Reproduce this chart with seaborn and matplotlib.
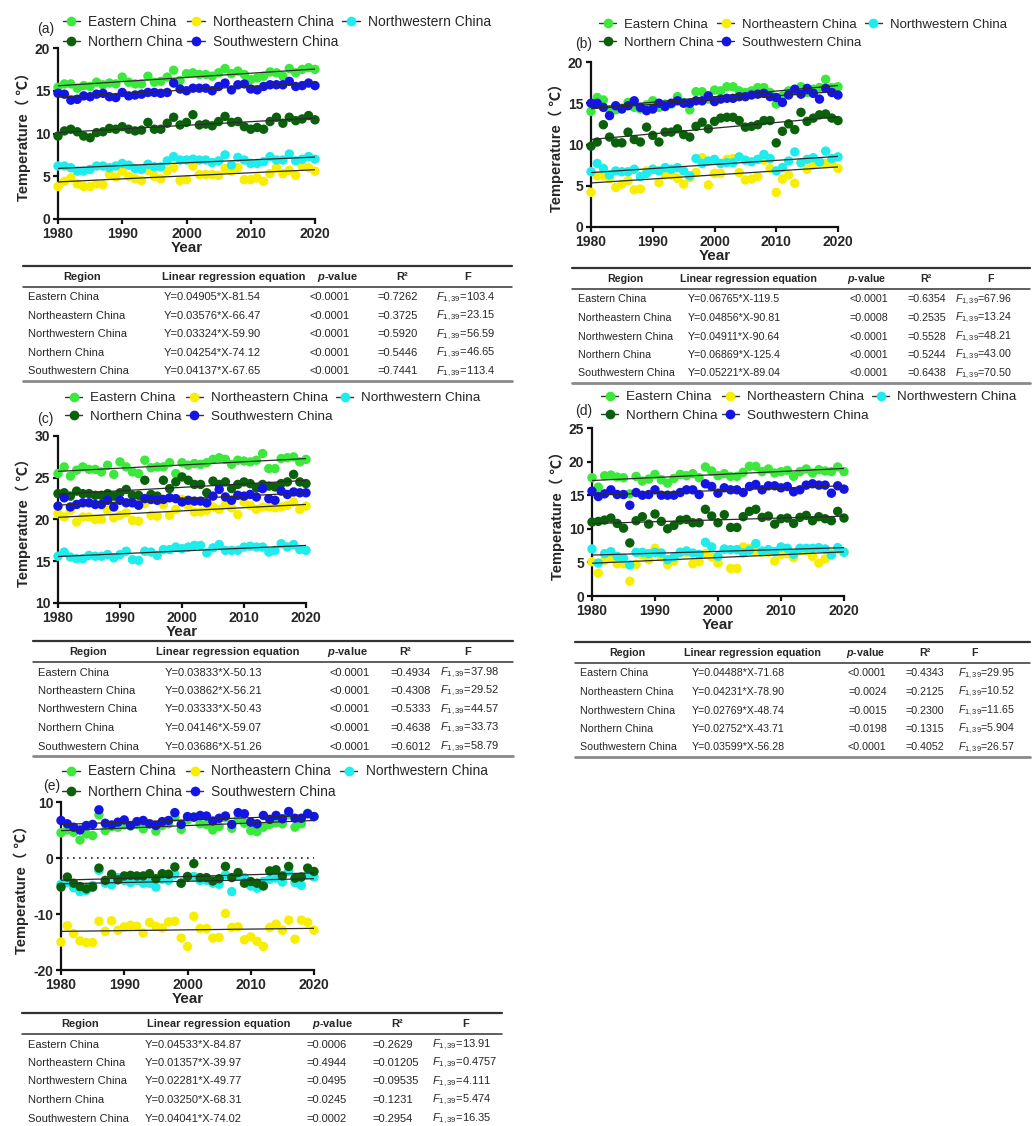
import numpy as np
import pandas as pd
import matplotlib
matplotlib.use("Agg")
import matplotlib.pyplot as plt
from matplotlib.lines import Line2D
import seaborn as sns

# ---------------------------------------------------------------- data
years = list(range(1980, 2021))
regions = ["Eastern China", "Northeastern China", "Northwestern China",
           "Northern China", "Southwestern China"]
palette = {"Eastern China": "#3CE83C", "Northeastern China": "#F7EE00",
           "Northwestern China": "#1FECEC", "Northern China": "#0B600B",
           "Southwestern China": "#1414E6"}

# (a) annual mean temperature
a_east = [15.4, 15.8, 15.8, 15.3, 15.6, 15.5, 16.0, 15.7, 15.9, 15.8, 16.6, 16.0, 15.8, 15.8,
          16.7, 16.0, 16.1, 16.6, 17.4, 16.2, 17.0, 17.1, 16.9, 16.9, 16.7, 17.1, 17.6, 17.0,
          17.3, 16.9, 16.3, 16.5, 16.7, 17.2, 17.1, 16.7, 17.6, 17.1, 17.5, 17.7, 17.5]
a_northeast = [3.8, 4.4, 4.8, 4.1, 3.8, 3.8, 4.1, 4.0, 5.2, 4.9, 5.6, 5.0, 4.7, 4.5, 5.7, 5.0,
               4.7, 5.6, 6.0, 4.5, 4.6, 6.2, 5.2, 5.2, 5.2, 5.1, 5.9, 5.6, 6.0, 4.6, 4.6, 4.8,
               4.4, 5.3, 6.0, 5.3, 5.7, 5.1, 6.2, 6.0, 5.6]
a_northwest = [6.2, 6.2, 6.0, 5.6, 5.6, 5.8, 6.2, 6.2, 6.0, 6.2, 6.5, 6.3, 5.9, 5.8, 6.4, 6.1,
               6.1, 6.8, 7.3, 6.9, 6.9, 7.0, 6.9, 6.9, 6.6, 6.8, 7.5, 6.3, 7.2, 6.9, 6.5, 6.5,
               6.7, 7.3, 6.9, 6.9, 7.6, 6.8, 7.0, 7.3, 7.0]
a_north = [9.7, 10.3, 10.5, 10.2, 9.7, 9.5, 10.1, 10.2, 10.6, 10.5, 10.8, 10.5, 10.3, 10.4,
           11.3, 10.5, 10.5, 11.2, 11.9, 11.0, 11.3, 12.2, 11.0, 11.1, 10.9, 11.4, 12.0, 11.3,
           11.4, 10.8, 10.5, 10.7, 10.5, 11.4, 11.9, 11.2, 11.9, 11.5, 11.7, 12.1, 11.6]
a_southwest = [14.7, 14.6, 13.9, 14.0, 14.4, 14.3, 14.6, 14.7, 14.3, 14.2, 14.8, 14.4, 14.5,
               14.6, 14.8, 14.8, 14.7, 14.8, 15.9, 15.2, 15.0, 15.3, 15.3, 15.3, 15.0, 15.5,
               15.9, 15.1, 15.7, 15.8, 15.2, 15.1, 15.5, 15.7, 15.7, 15.7, 16.1, 15.5, 15.6,
               15.9, 15.6]

# (b) spring
b_east = [14.0, 15.7, 15.4, 14.2, 14.2, 14.4, 15.1, 14.5, 14.3, 14.8, 15.3, 14.5, 14.9, 14.9,
          15.8, 15.1, 14.2, 16.4, 16.4, 15.5, 16.6, 16.5, 17.0, 17.0, 16.5, 16.3, 16.5, 16.9,
          16.9, 16.3, 14.9, 15.9, 16.5, 16.5, 17.0, 16.3, 16.7, 16.9, 17.9, 16.9, 17.0]
b_northeast = [4.2, 6.2, 6.2, 5.9, 4.8, 5.2, 5.6, 4.5, 4.6, 6.8, 7.0, 5.4, 6.3, 6.3, 5.9, 5.2,
               6.0, 6.6, 8.4, 5.1, 6.5, 6.5, 8.2, 8.3, 6.6, 5.7, 5.8, 6.1, 8.1, 7.1, 4.2, 5.8,
               6.3, 5.3, 7.8, 7.0, 7.5, 7.8, 7.7, 7.8, 7.1]
b_northwest = [6.7, 7.7, 7.1, 6.3, 6.8, 6.7, 6.7, 7.0, 6.1, 6.5, 7.0, 6.8, 7.2, 7.0, 7.2, 6.8,
               6.2, 8.3, 7.7, 8.0, 8.2, 7.7, 7.8, 7.8, 8.5, 8.1, 7.9, 8.2, 8.8, 8.3, 6.8, 7.2,
               8.0, 9.1, 7.8, 8.2, 8.4, 7.9, 9.2, 8.3, 8.5]
b_north = [9.8, 10.3, 12.4, 10.9, 10.2, 10.2, 11.5, 10.6, 10.3, 12.1, 11.1, 10.3, 11.5, 11.5,
           11.9, 11.2, 10.9, 12.2, 12.7, 11.9, 12.8, 13.2, 13.3, 13.3, 12.9, 12.1, 12.2, 12.4,
           12.9, 12.9, 10.2, 11.6, 12.5, 11.8, 13.9, 12.8, 13.2, 13.6, 13.7, 13.2, 12.9]
b_southwest = [15.0, 15.0, 14.5, 13.5, 14.7, 14.3, 14.7, 15.3, 14.5, 14.1, 14.3, 15.0, 14.6,
               15.0, 15.3, 15.0, 15.0, 15.3, 15.3, 15.9, 15.2, 15.5, 15.6, 15.6, 15.8, 15.8,
               16.0, 16.1, 16.2, 15.8, 15.7, 15.1, 16.0, 16.7, 16.1, 16.8, 16.2, 15.5, 16.8,
               16.3, 16.0]

# (c) summer
c_east = [25.5, 26.3, 25.2, 25.9, 26.3, 26.0, 26.0, 25.7, 26.5, 25.4, 26.9, 26.3, 25.7, 25.5,
          27.1, 26.2, 26.3, 26.3, 26.8, 25.5, 26.8, 26.5, 26.7, 26.6, 26.8, 27.2, 27.4, 27.2,
          26.6, 27.1, 27.0, 26.9, 27.1, 27.9, 26.1, 26.1, 27.3, 27.4, 27.5, 26.9, 27.2]
c_northeast = [20.7, 20.3, 21.1, 19.7, 20.3, 20.3, 20.0, 20.0, 21.1, 20.2, 20.5, 20.8, 19.9,
               19.8, 21.9, 20.5, 20.4, 21.8, 20.5, 21.2, 22.4, 21.7, 20.9, 20.9, 21.1, 21.5,
               21.2, 21.9, 21.4, 20.6, 22.1, 21.7, 21.2, 21.5, 21.5, 21.4, 21.5, 21.7, 22.1,
               21.2, 21.6]
c_northwest = [15.6, 16.1, 15.5, 15.3, 15.3, 15.7, 15.6, 15.6, 15.8, 15.4, 15.8, 16.2, 15.2,
               15.1, 16.2, 16.1, 15.7, 16.4, 16.4, 16.7, 16.5, 16.7, 16.9, 16.9, 16.0, 16.6,
               17.0, 16.3, 16.3, 16.3, 16.7, 16.8, 16.7, 16.7, 16.1, 16.3, 17.1, 16.7, 17.0,
               16.4, 16.3]
c_north = [23.1, 23.2, 22.8, 23.4, 23.1, 23.1, 22.9, 22.9, 23.1, 22.8, 23.2, 23.6, 22.9, 22.9,
           24.7, 23.0, 22.8, 24.7, 23.7, 24.5, 25.1, 24.7, 24.2, 24.2, 23.2, 24.6, 24.2, 24.5,
           23.7, 24.2, 24.5, 24.3, 23.8, 24.2, 24.0, 23.9, 24.3, 24.5, 25.4, 24.5, 24.3]
c_southwest = [21.6, 22.6, 21.5, 21.8, 22.0, 22.0, 21.8, 21.8, 22.3, 21.5, 22.3, 22.0, 22.0,
               21.7, 22.5, 22.4, 22.3, 22.4, 22.6, 22.5, 22.1, 22.3, 22.2, 22.2, 22.0, 22.8,
               23.6, 22.7, 22.3, 22.9, 22.8, 23.0, 22.7, 23.7, 22.5, 22.3, 23.4, 23.0, 23.3,
               23.2, 23.2]

# (d) autumn
d_east = [17.6, 16.2, 17.9, 18.0, 17.7, 17.6, 15.2, 17.8, 17.1, 17.4, 18.1, 17.3, 16.8, 17.5,
          18.1, 17.9, 18.2, 17.6, 19.2, 18.6, 17.9, 18.2, 17.8, 17.8, 18.4, 19.3, 19.3, 18.5,
          18.9, 18.3, 18.5, 18.7, 17.8, 18.5, 18.9, 18.3, 18.8, 18.6, 18.5, 19.2, 18.5]
d_northeast = [5.1, 3.4, 5.3, 5.7, 4.8, 4.8, 2.2, 4.7, 6.1, 5.4, 7.1, 5.8, 4.7, 5.2, 6.5, 6.5,
               4.8, 5.1, 6.3, 5.8, 4.9, 6.9, 4.1, 4.1, 7.3, 7.1, 6.6, 6.5, 6.5, 5.2, 6.2, 6.3,
               5.7, 6.7, 6.7, 5.9, 4.9, 5.5, 6.3, 6.9, 6.6]
d_northwest = [7.0, 4.9, 6.3, 6.6, 5.9, 5.6, 4.6, 6.5, 6.5, 6.3, 6.5, 6.4, 5.4, 5.8, 6.5, 6.7,
               6.4, 6.2, 8.0, 7.3, 5.9, 7.0, 6.9, 6.9, 6.4, 6.8, 7.8, 6.7, 6.9, 6.6, 7.3, 7.1,
               6.2, 7.1, 7.1, 7.1, 7.2, 7.0, 6.1, 7.2, 6.5]
d_north = [11.0, 11.1, 11.3, 11.6, 10.8, 10.1, 7.9, 11.2, 11.8, 10.7, 12.2, 11.1, 10.0, 10.5,
           11.3, 11.4, 10.9, 10.9, 12.9, 11.9, 10.9, 12.1, 10.2, 10.2, 11.8, 12.6, 12.9, 11.7,
           11.9, 10.7, 11.5, 11.6, 10.8, 11.7, 12.0, 11.2, 11.8, 11.5, 11.2, 12.6, 11.6]
d_southwest = [15.6, 14.8, 15.2, 15.8, 15.1, 15.1, 13.5, 15.4, 15.0, 15.1, 15.8, 15.0, 15.0,
               15.0, 15.4, 15.8, 15.8, 15.1, 16.7, 16.3, 15.3, 16.1, 15.8, 15.8, 15.4, 16.3,
               16.6, 15.8, 16.4, 16.4, 16.1, 16.3, 15.5, 15.8, 16.5, 16.7, 16.5, 16.5, 15.3,
               16.4, 15.9]

# (e) winter
e_east = [4.5, 5.0, 4.6, 3.2, 4.3, 4.0, 7.7, 4.9, 5.6, 5.5, 5.9, 5.7, 6.0, 5.2, 6.1, 4.8, 5.8,
          6.1, 7.3, 5.1, 6.8, 7.3, 6.1, 6.0, 5.0, 5.6, 7.2, 5.3, 6.9, 6.2, 4.9, 4.7, 5.5, 6.0,
          6.3, 6.1, 7.7, 5.5, 6.1, 8.0, 7.4]
e_northeast = [-15.0, -12.1, -13.5, -14.8, -15.1, -15.1, -11.3, -13.1, -11.2, -12.9, -12.3,
               -12.0, -12.2, -13.4, -11.5, -12.2, -12.5, -11.4, -11.3, -14.3, -15.8, -10.4,
               -12.6, -12.6, -14.3, -14.2, -9.9, -12.4, -12.3, -14.6, -14.1, -14.9, -15.8,
               -12.4, -11.8, -12.9, -11.1, -14.5, -11.1, -11.5, -12.9]
e_northwest = [-4.7, -4.4, -5.3, -6.0, -5.8, -4.9, -2.2, -4.5, -4.8, -3.5, -4.0, -4.4, -4.0,
               -4.5, -4.5, -5.2, -3.8, -4.0, -2.9, -4.5, -3.4, -3.3, -4.0, -4.0, -4.5, -4.7,
               -3.0, -6.0, -3.2, -3.5, -5.0, -5.4, -4.2, -3.8, -3.6, -4.3, -2.4, -4.4, -4.9,
               -3.0, -3.4]
e_north = [-5.2, -3.4, -4.5, -5.1, -5.5, -5.2, -1.8, -4.0, -2.9, -3.9, -3.2, -3.1, -3.2, -3.2,
           -2.8, -3.7, -2.8, -2.9, -1.6, -4.5, -3.3, -1.0, -3.5, -3.5, -4.1, -3.7, -1.5, -3.5,
           -2.6, -4.5, -4.2, -4.5, -5.0, -2.3, -2.1, -3.2, -1.5, -3.6, -3.4, -1.8, -2.4]
e_southwest = [6.7, 6.1, 5.5, 5.0, 5.8, 6.0, 8.6, 6.2, 5.9, 6.4, 6.8, 5.8, 6.5, 6.7, 6.1, 5.8,
               6.5, 6.7, 8.1, 6.0, 7.4, 7.3, 7.6, 7.5, 6.6, 7.1, 7.5, 6.0, 8.1, 7.9, 6.4, 6.1,
               7.6, 6.9, 7.6, 7.0, 8.3, 7.1, 7.1, 7.9, 7.4]

# linear regression results, in region order
a_slope = [0.04905, 0.03576, 0.03324, 0.04254, 0.04137]
a_icpt = [-81.54, -66.47, -59.90, -74.12, -67.65]
a_p = ["<0.0001", "<0.0001", "<0.0001", "<0.0001", "<0.0001"]
a_r2 = [0.7262, 0.3725, 0.5920, 0.5446, 0.7441]
a_f = [103.4, 23.15, 56.59, 46.65, 113.4]

b_slope = [0.06765, 0.04856, 0.04911, 0.06869, 0.05221]
b_icpt = [-119.5, -90.81, -90.64, -125.4, -89.04]
b_p = ["<0.0001", "=0.0008", "<0.0001", "<0.0001", "<0.0001"]
b_r2 = [0.6354, 0.2535, 0.5528, 0.5244, 0.6438]
b_f = [67.96, 13.24, 48.21, 43.00, 70.50]

c_slope = [0.03833, 0.03862, 0.03333, 0.04146, 0.03686]
c_icpt = [-50.13, -56.21, -50.43, -59.07, -51.26]
c_p = ["<0.0001", "<0.0001", "<0.0001", "<0.0001", "<0.0001"]
c_r2 = [0.4934, 0.4308, 0.5333, 0.4638, 0.6012]
c_f = [37.98, 29.52, 44.57, 33.73, 58.79]

d_slope = [0.04488, 0.04231, 0.02769, 0.02752, 0.03599]
d_icpt = [-71.68, -78.90, -48.74, -43.71, -56.28]
d_p = ["<0.0001", "=0.0024", "=0.0015", "=0.0198", "<0.0001"]
d_r2 = [0.4343, 0.2125, 0.2300, 0.1315, 0.4052]
d_f = [29.95, 10.52, 11.65, 5.904, 26.57]

e_slope = [0.04533, 0.01357, 0.02281, 0.03250, 0.04041]
e_icpt = [-84.87, -39.97, -49.77, -68.31, -74.02]
e_p = ["=0.0006", "=0.4944", "=0.0495", "=0.0245", "=0.0002"]
e_r2 = [0.2629, 0.01205, 0.09535, 0.1231, 0.2954]
e_f = [13.91, 0.4757, 4.111, 5.474, 16.35]

# ---------------------------------------------------------------- style
sns.set_theme(style="ticks")
plt.rcParams["font.family"] = ["Liberation Sans", "Noto Sans CJK SC", "DejaVu Sans"]
plt.rcParams.update({
    "mathtext.fontset": "custom",
    "mathtext.rm": "Liberation Sans",
    "mathtext.it": "Liberation Sans:italic",
    "mathtext.bf": "Liberation Sans:bold",
    "mathtext.bfit": "Liberation Sans:italic:bold",
})

W, H = 1035, 1126
fig = plt.figure(figsize=(W / 100, H / 100), dpi=100)
fig.patch.set_facecolor("white")


def px_axes(left, right, top, bottom):
    return fig.add_axes([left / W, 1 - bottom / H, (right - left) / W, (bottom - top) / H])


def draw_panel(rect, series, slopes, icpts, ylim, yticks, letter, letter_xy, leg_xy,
               leg_fs=10, zero_line=False):
    ax = px_axes(*rect)
    df = pd.DataFrame({
        "Year": years * len(regions),
        "Temperature": np.concatenate(series),
        "Region": np.repeat(regions, len(years)),
    })
    sns.scatterplot(data=df, x="Year", y="Temperature", hue="Region", hue_order=regions,
                    palette=palette, s=46, linewidth=0, legend=False, ax=ax,
                    clip_on=False, zorder=3)
    xl = np.array([1980, 2020])
    for k, m in enumerate(slopes):
        sns.lineplot(x=xl, y=m * xl + icpts[k], color="#2b2b2b", lw=0.9, ax=ax, zorder=4)
    if zero_line:
        ax.plot(xl, [0, 0], ls=(0, (1, 2.6)), color="#222222", lw=1.2, zorder=2)
    ax.set_xlim(1980, 2020)
    ax.set_ylim(*ylim)
    ax.set_xticks([1980, 1990, 2000, 2010, 2020])
    ax.set_yticks(yticks)
    ax.set_xticklabels([str(t) for t in [1980, 1990, 2000, 2010, 2020]])
    ax.set_yticklabels([str(t) for t in yticks])
    sns.despine(ax=ax)
    for side in ("left", "bottom"):
        ax.spines[side].set_linewidth(1.6)
        ax.spines[side].set_color("#111111")
    ax.tick_params(axis="both", direction="out", length=3.5, width=1.6, color="#111111",
                   labelsize=10, pad=2)
    for lab in ax.get_xticklabels() + ax.get_yticklabels():
        lab.set_fontweight("bold")
    ax.set_xlabel("Year", fontsize=11, fontweight="bold", labelpad=0.5)
    ax.set_ylabel("Temperature（ ℃）", fontsize=10.5, fontweight="bold", labelpad=3)
    ax.set_facecolor("white")

    fig.text(letter_xy[0] / W, 1 - letter_xy[1] / H, letter, fontsize=10,
             ha="center", va="center")
    order = [0, 3, 1, 4, 2]
    handles = [Line2D([0], [0], color="#333333", lw=1.0, marker="o", markersize=7,
                      markerfacecolor=palette[regions[i]], markeredgewidth=0)
               for i in order]
    fig.legend(handles, [regions[i] for i in order], loc="center",
               bbox_to_anchor=(leg_xy[0] / W, 1 - leg_xy[1] / H), ncol=3, frameon=False,
               fontsize=leg_fs, handlelength=1.25, handletextpad=0.6, columnspacing=0.3,
               labelspacing=0.45, borderpad=0)
    return ax


def fmt(v):
    return format(v, "#.4g")


def draw_table(x0, x1, top, slopes, icpts, pvals, r2s, fvals, hdr_x, col_x, fs=8,
               show_bottom=True):
    def fy(y):
        return 1 - y / H
    fig.add_artist(Line2D([x0 / W, x1 / W], [fy(top), fy(top)], color="#333333", lw=1.6))
    fig.add_artist(Line2D([x0 / W, x1 / W], [fy(top + 21), fy(top + 21)], color="#333333", lw=1.1))
    if show_bottom:
        fig.add_artist(Line2D([x0 / W, x1 / W], [fy(top + 115), fy(top + 115)], color="#8a8a8a", lw=2.0))
    headers = ["Region", "Linear regression equation", r"$\mathbfit{p}$-value", "R²", "F"]
    for hx, ht in zip(hdr_x, headers):
        fig.text(hx / W, fy(top + 11), ht, fontsize=fs, fontweight="bold", ha="center", va="center")
    for i, reg in enumerate(regions):
        y = top + 31.5 + i * 18.5
        eq = "Y=" + fmt(slopes[i]) + "*X-" + fmt(abs(icpts[i]))
        cells = [reg, eq, pvals[i], "=" + fmt(r2s[i]), r"$\mathit{F}_{1,39}$=" + fmt(fvals[i])]
        for cx, ct in zip(col_x, cells):
            fig.text(cx / W, fy(y), ct, fontsize=fs, ha="left", va="center")


# ---------------------------------------------------------------- panels
draw_panel((58, 315, 48, 219), [a_east, a_northeast, a_northwest, a_north, a_southwest],
           a_slope, a_icpt, (0, 20), [0, 5, 10, 15, 20], "(a)", (46, 29), (277, 32),
           leg_fs=10)
draw_panel((591, 838, 62, 227), [b_east, b_northeast, b_northwest, b_north, b_southwest],
           b_slope, b_icpt, (0, 20), [0, 5, 10, 15, 20], "(b)", (584, 44), (803, 33.5),
           leg_fs=9.5)
draw_panel((58, 306, 436, 603), [c_east, c_northeast, c_northwest, c_north, c_southwest],
           c_slope, c_icpt, (10, 30), [10, 15, 20, 25, 30], "(c)", (45, 419), (273, 407.5),
           leg_fs=9.7)
draw_panel((592, 844, 428, 596), [d_east, d_northeast, d_northwest, d_north, d_southwest],
           d_slope, d_icpt, (0, 25), [0, 5, 10, 15, 20, 25], "(d)", (584, 411), (809, 406.5),
           leg_fs=9.7)
draw_panel((61, 314, 802, 970), [e_east, e_northeast, e_northwest, e_north, e_southwest],
           e_slope, e_icpt, (-20, 10), [-20, -10, 0, 10], "(e)", (52, 786), (275, 781.5),
           leg_fs=9.9, zero_line=True)

# ---------------------------------------------------------------- tables
draw_table(23, 512, 266, a_slope, a_icpt, a_p, a_r2, a_f,
           [82, 234, 337, 402, 468], [28, 164, 309, 377, 436])
draw_table(572, 1030, 268, b_slope, b_icpt, b_p, b_r2, b_f,
           [625, 748, 867, 926, 990], [578, 688, 849, 907, 955], fs=7.7)
draw_table(33, 513, 641, c_slope, c_icpt, c_p, c_r2, c_f,
           [88, 228, 347, 405, 468], [38, 165, 330, 390, 440])
draw_table(575, 1030, 642, d_slope, d_icpt, d_p, d_r2, d_f,
           [627, 752, 866, 925, 975], [580, 692, 848, 905, 958], fs=7.7)
draw_table(22, 502, 1013, e_slope, e_icpt, e_p, e_r2, e_f,
           [80, 219, 332, 397, 466], [28, 145, 306, 372, 432], show_bottom=False)

fig.savefig("out.png", dpi=100, facecolor="white")
